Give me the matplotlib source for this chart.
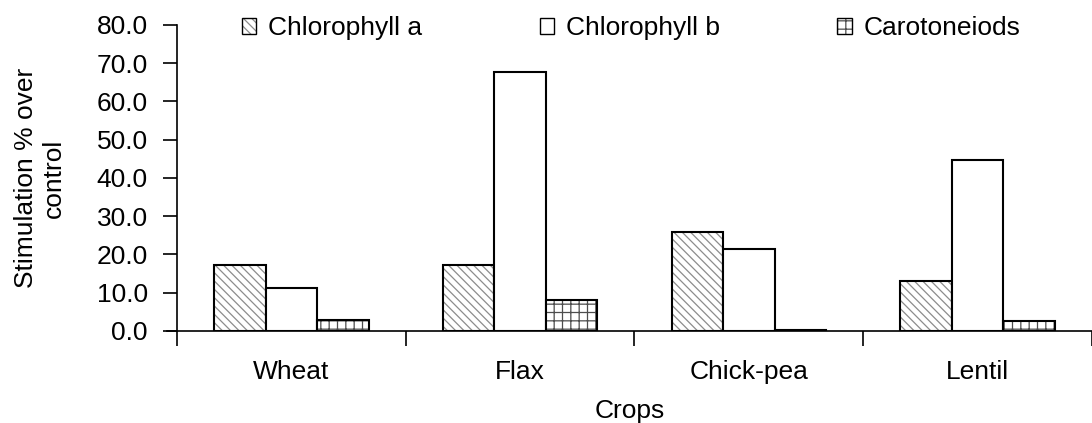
import matplotlib
matplotlib.use("Agg")
import matplotlib.pyplot as plt
import numpy as np

plt.rcParams['font.family'] = ['Liberation Sans', 'DejaVu Sans']
plt.rcParams['hatch.linewidth'] = 0.9

crops = ['Wheat', 'Flax', 'Chick-pea', 'Lentil']
chl_a = [17.3, 17.3, 25.9, 13.1]
chl_b = [11.2, 67.7, 21.4, 44.7]
carot = [3.0, 8.0, 0.3, 2.6]
series_names = ['Chlorophyll a', 'Chlorophyll b', 'Carotoneiods']

x = np.arange(len(crops))
width = 0.225
fs = 19

fig = plt.figure(figsize=(10.92, 4.23), dpi=100)
ax = fig.add_axes([0.1526, 0.2175, 0.8474, 0.7235])

b1 = ax.bar(x - width, chl_a, width, color='white', edgecolor='black', linewidth=1.5,
            hatch='\\\\\\\\', label=series_names[0])
for p in b1:
    p._hatch_color = (0.55, 0.55, 0.55, 1.0)
b2 = ax.bar(x, chl_b, width, color='white', edgecolor='black', linewidth=1.5,
            label=series_names[1])
b3 = ax.bar(x + width, carot, width, color='white', edgecolor='black', linewidth=1.5,
            hatch='++', label=series_names[2])
for p in b3:
    p._hatch_color = (0.3, 0.3, 0.3, 1.0)

ax.set_ylim(0, 80)
ax.set_xlim(-0.545, 3.478)
ax.spines['left'].set_position(('data', -0.5))
ax.spines['top'].set_visible(False)
ax.spines['right'].set_visible(False)
ax.spines['left'].set_linewidth(1.2)
ax.spines['bottom'].set_linewidth(1.2)

ax.set_yticks(np.arange(0, 81, 10))
ax.set_yticklabels([f'{v:.1f}' for v in np.arange(0, 81, 10)])
ax.tick_params(axis='y', direction='out', length=10, width=1.2, labelsize=fs, pad=11)

ax.set_xticks(np.arange(len(crops) + 1) - 0.5)
ax.set_xticklabels([])
ax.tick_params(axis='x', which='major', direction='out', length=11, width=1.2)
ax.set_xticks(x, minor=True)
ax.set_xticklabels(crops, minor=True)
ax.tick_params(axis='x', which='minor', length=0, labelsize=fs, pad=21)

ax.set_ylabel('Stimulation % over\ncontrol', fontsize=fs, labelpad=22)
ax.set_xlabel('Crops', fontsize=fs, labelpad=11)

leg = fig.legend(loc='center', bbox_to_anchor=(0.578, 0.934), ncol=3, frameon=False,
                 fontsize=fs, handlelength=0.55, handleheight=0.55, handletextpad=0.45,
                 columnspacing=4.45)
for h in leg.legend_handles:
    h.set_linewidth(1.0)

fig.savefig('out.png', dpi=100)
